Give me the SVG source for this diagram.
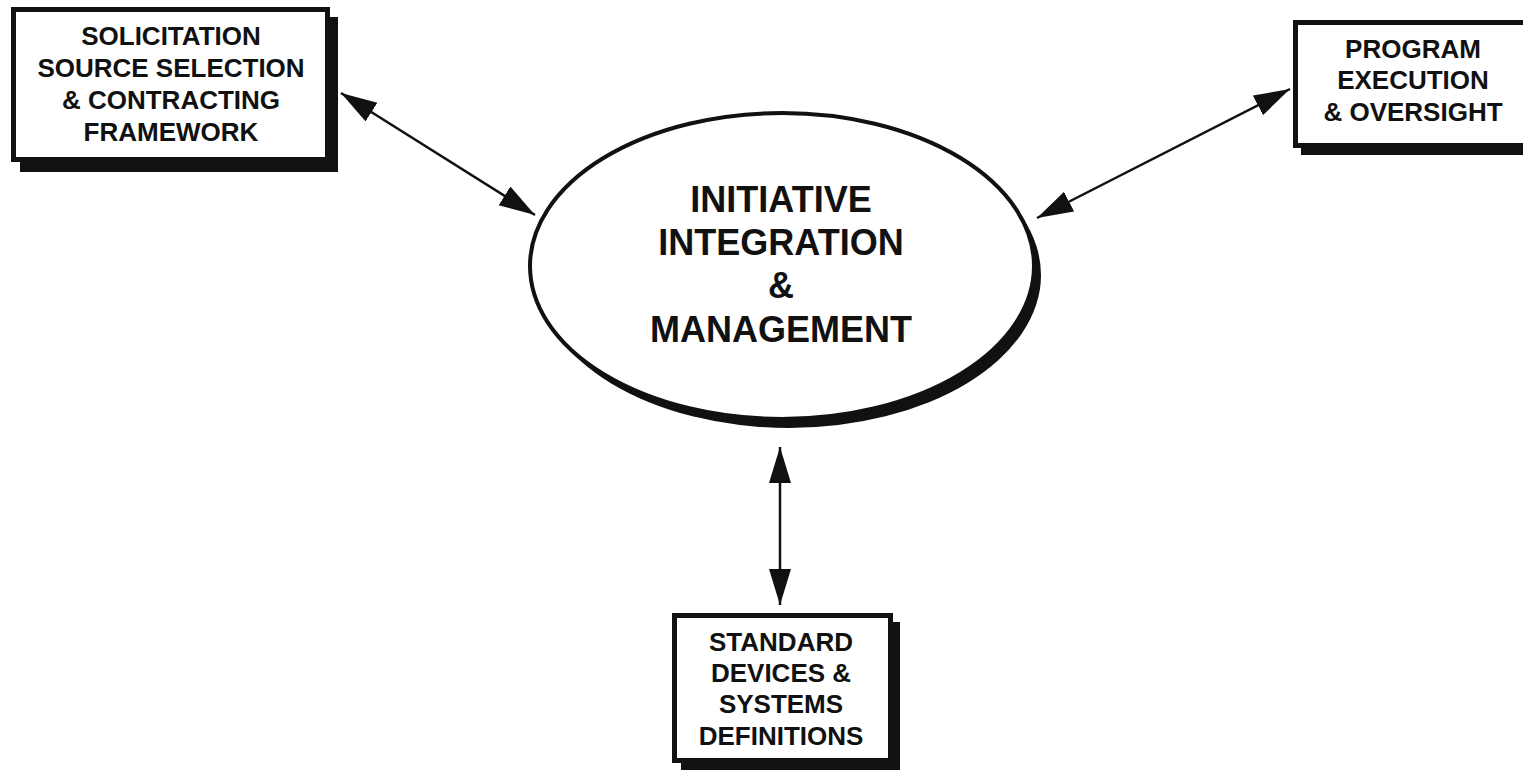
<svg xmlns="http://www.w3.org/2000/svg" width="1523" height="775" viewBox="0 0 1523 775">
<defs>
<style>
.box{fill:#fff;stroke:#111;stroke-width:5}
.shadow{fill:#111}
.t{font-family:"Liberation Sans",Arial,sans-serif;font-weight:bold;fill:#111;text-anchor:middle}
.bt{font-size:26px}
.et{font-size:36px}
.conn{stroke:#111;stroke-width:2.5;fill:none;marker-start:url(#ah);marker-end:url(#ah)}
</style>
<marker id="ah" markerUnits="userSpaceOnUse" markerWidth="38" markerHeight="24" refX="36" refY="11" orient="auto-start-reverse" viewBox="0 0 38 24">
<path d="M0,0 L36,11 L0,22 Z" fill="#111"/>
</marker>
</defs>
<rect width="1523" height="775" fill="#fff"/>
<g id="connectors">
<line class="conn" x1="341" y1="93" x2="535" y2="215"/>
<line class="conn" x1="1290" y1="89" x2="1037" y2="218"/>
<line class="conn" x1="780" y1="447" x2="780" y2="605"/>
</g>
<g id="center">
<ellipse cx="789" cy="275" rx="252" ry="153" class="shadow"/>
<ellipse cx="782" cy="266" rx="252" ry="153" fill="#fff" stroke="#111" stroke-width="4"/>
<text class="t et" x="781" y="212">INITIATIVE</text>
<text class="t et" x="781" y="255">INTEGRATION</text>
<text class="t et" x="781" y="298">&amp;</text>
<text class="t et" x="781" y="342">MANAGEMENT</text>
</g>
<g id="solicitation">
<rect class="shadow" x="20" y="17" width="318" height="155"/>
<rect class="box" x="13.5" y="9.5" width="314" height="150"/>
<text class="t bt" x="171" y="45">SOLICITATION</text>
<text class="t bt" x="171" y="77">SOURCE SELECTION</text>
<text class="t bt" x="171" y="109">&amp; CONTRACTING</text>
<text class="t bt" x="171" y="141">FRAMEWORK</text>
</g>
<g id="program">
<rect class="shadow" x="1301" y="30" width="250" height="125"/>
<rect class="box" x="1295.5" y="22.5" width="240" height="123"/>
<text class="t bt" x="1413" y="58">PROGRAM</text>
<text class="t bt" x="1413" y="89">EXECUTION</text>
<text class="t bt" x="1413" y="121">&amp; OVERSIGHT</text>
</g>
<g id="standard">
<rect class="shadow" x="681" y="622" width="219" height="148"/>
<rect class="box" x="674.5" y="615.5" width="216" height="145"/>
<text class="t bt" x="781" y="651">STANDARD</text>
<text class="t bt" x="781" y="682">DEVICES &amp;</text>
<text class="t bt" x="781" y="713">SYSTEMS</text>
<text class="t bt" x="781" y="745">DEFINITIONS</text>
</g>
</svg>
